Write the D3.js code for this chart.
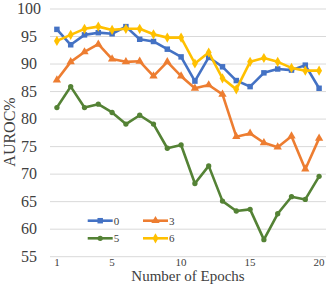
<!DOCTYPE html>
<html><head><meta charset="utf-8">
<script src="https://cdn.jsdelivr.net/npm/d3@7"></script>
<style>html,body{margin:0;padding:0;background:#fff;}svg{display:block;}
text{font-family:"Liberation Serif","Times New Roman","DejaVu Serif",serif;fill:#404040;}</style>
</head><body>
<svg id="c" width="332" height="287"></svg>
<script>
const epochs = d3.range(1, 21);
const yTicks = [55, 60, 65, 70, 75, 80, 85, 90, 95, 100];
const xTickLabels = [1, 5, 10, 15, 20];
const s0 = [96.3, 93.5, 95.3, 95.7, 95.5, 96.8, 94.5, 94.1, 92.7, 91.3, 86.9, 91.2, 89.5, 87.0, 85.9, 88.4, 89.1, 88.9, 89.8, 85.6];
const s3 = [87.1, 90.4, 92.2, 93.6, 90.9, 90.4, 90.5, 87.8, 90.4, 87.8, 85.6, 86.2, 84.5, 76.8, 77.4, 75.7, 74.9, 76.9, 70.9, 76.5];
const s5 = [82.1, 85.9, 82.1, 82.7, 81.2, 79.1, 80.7, 79.1, 74.7, 75.3, 68.3, 71.5, 65.1, 63.3, 63.6, 58.1, 62.8, 65.9, 65.4, 69.6];
const s6 = [94.2, 95.3, 96.4, 96.8, 96.2, 96.4, 96.4, 95.4, 94.8, 94.8, 90.1, 92.1, 87.4, 85.4, 90.4, 91.1, 90.4, 89.3, 88.8, 88.8];
const seriesNames = ["0", "3", "5", "6"];
const colors = ["#4472C4", "#ED7D31", "#548235", "#FFC000"];
const symbols = [d3.symbolSquare, d3.symbolTriangle, d3.symbolCircle, d3.symbolDiamond];
const symSizes = [30, 30, 22, 30];
const seriesData = [s0, s3, s5, s6];

const svg = d3.select("#c");
const x = d3.scaleBand().domain(epochs).range([50, 326]);
const cx = d => x(d) + x.bandwidth() / 2;
const y = d3.scaleLinear().domain([55, 100]).range([256.7, 9]);

svg.append("g").selectAll("line").data(yTicks).join("line")
  .attr("x1", 50).attr("x2", 326)
  .attr("y1", d => y(d)).attr("y2", d => y(d))
  .attr("stroke", "#d9d9d9").attr("stroke-width", 1);

svg.append("g").selectAll("text").data(yTicks).join("text")
  .attr("x", 29).attr("y", d => y(d) + 5)
  .attr("text-anchor", "middle")
  .style("font-size", "16px")
  .text(d => d);

svg.append("g").selectAll("text").data(xTickLabels).join("text")
  .attr("x", d => cx(d)).attr("y", 266)
  .attr("text-anchor", "middle")
  .style("font-size", "11px")
  .text(d => d);

svg.append("text").attr("x", 188).attr("y", 281).attr("text-anchor", "middle")
  .style("font-size", "15px").text("Number of Epochs");
svg.append("text").attr("transform", "translate(15,132) rotate(-90)").attr("text-anchor", "middle")
  .style("font-size", "16px").text("AUROC%");

const line = d3.line().x((d, i) => cx(epochs[i])).y(d => y(d));
seriesData.forEach((data, k) => {
  const g = svg.append("g");
  g.append("path").datum(data).attr("d", line)
    .attr("fill", "none").attr("stroke", colors[k]).attr("stroke-width", 2.6)
    .attr("stroke-linejoin", "round");
  g.selectAll("path.m").data(data).join("path").attr("class", "m")
    .attr("transform", (d, i) => `translate(${cx(epochs[i])},${y(d)})`)
    .attr("d", d3.symbol().type(symbols[k]).size(symSizes[k]))
    .attr("fill", colors[k]);
});

const legPos = [[87.7, 220.7], [143, 220.7], [87.7, 238.3], [143, 238.3]];
seriesNames.forEach((n, k) => {
  const [lx, ly] = legPos[k];
  svg.append("line").attr("x1", lx).attr("x2", lx + 25).attr("y1", ly).attr("y2", ly)
    .attr("stroke", colors[k]).attr("stroke-width", 2.6);
  svg.append("path").attr("transform", `translate(${lx + 12.5},${ly})`)
    .attr("d", d3.symbol().type(symbols[k]).size(symSizes[k])).attr("fill", colors[k]);
  svg.append("text").attr("x", lx + 26).attr("y", ly + 4)
    .style("font-size", "11px").text(n);
});
</script>
</body></html>
